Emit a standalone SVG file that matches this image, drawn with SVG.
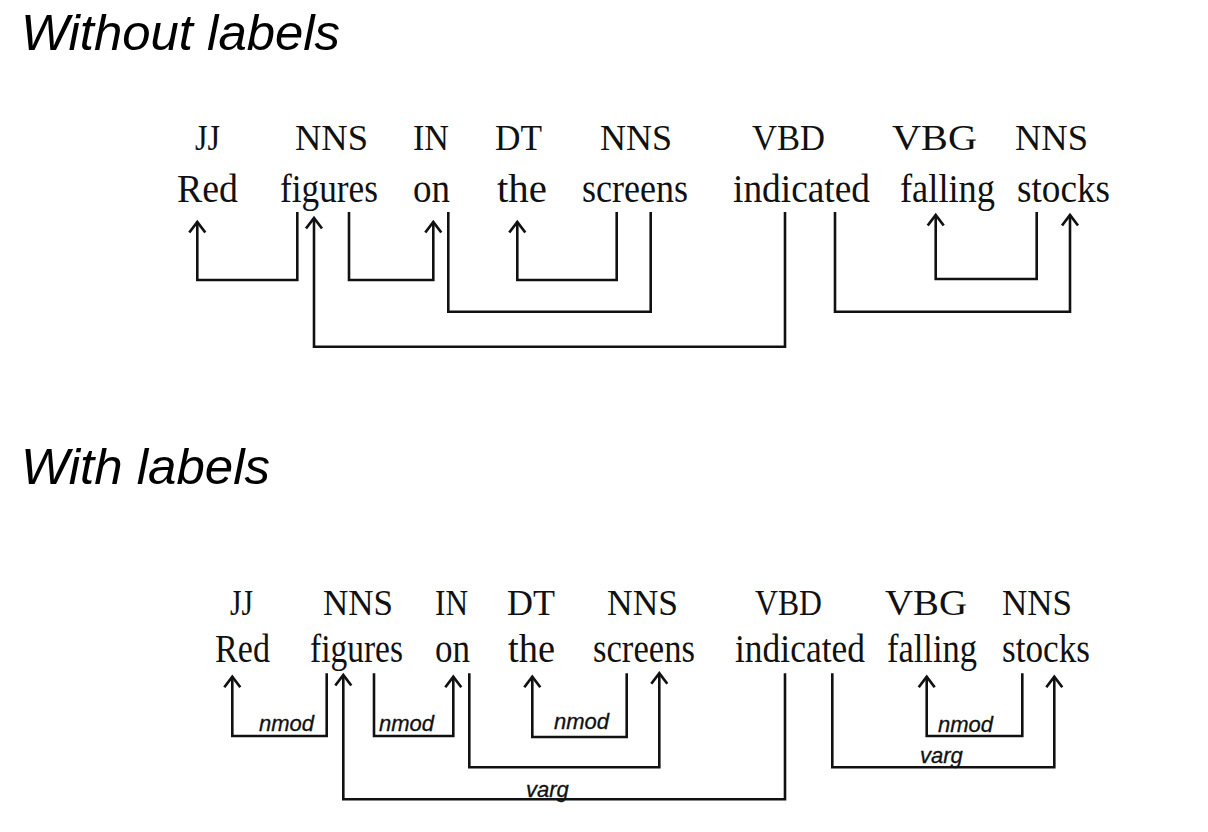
<svg xmlns="http://www.w3.org/2000/svg" width="1208" height="832" viewBox="0 0 1208 832">
<style>
.title{font-family:"Liberation Sans",Arial,sans-serif;font-style:italic;font-size:50px;fill:#000}
.tag{font-family:"Liberation Serif","Times New Roman",serif;font-size:36px;fill:#111}
.tag2{font-family:"Liberation Serif","Times New Roman",serif;font-size:35px;fill:#111}
.word{font-family:"Liberation Serif","Times New Roman",serif;font-size:40px;fill:#111}
.word2{font-family:"Liberation Serif","Times New Roman",serif;font-size:39px;fill:#111}
.lab{font-family:"Liberation Sans",Arial,sans-serif;font-style:italic;font-size:22px;fill:#111;stroke:#111;stroke-width:0.3}
.ln{fill:none;stroke:#111;stroke-width:2.6}
.ar{fill:none;stroke:#111;stroke-width:2.6;marker-end:url(#arr)}
</style>
<defs>
<marker id="arr" markerUnits="userSpaceOnUse" viewBox="-12 -10 14 20" markerWidth="14" markerHeight="20" refX="0" refY="0" orient="auto" overflow="visible">
<path d="M-10.5,-8 L0,0 L-10.5,8" fill="none" stroke="#111" stroke-width="2.7"/>
</marker>
</defs>
<rect width="1208" height="832" fill="#fff"/>
<text class="title" x="21" y="50" textLength="319" lengthAdjust="spacingAndGlyphs">Without labels</text>
<text class="title" x="21" y="484" textLength="249" lengthAdjust="spacingAndGlyphs">With labels</text>

<g id="top-nodes">
<g id="t-red"><text class="tag" x="195" y="150" textLength="25" lengthAdjust="spacingAndGlyphs">JJ</text><text class="word" x="177" y="202" textLength="61" lengthAdjust="spacingAndGlyphs">Red</text></g>
<g id="t-figures"><text class="tag" x="295" y="150" textLength="73" lengthAdjust="spacingAndGlyphs">NNS</text><text class="word" x="280" y="202" textLength="98" lengthAdjust="spacingAndGlyphs">figures</text></g>
<g id="t-on"><text class="tag" x="413" y="150" textLength="36" lengthAdjust="spacingAndGlyphs">IN</text><text class="word" x="413" y="202" textLength="37" lengthAdjust="spacingAndGlyphs">on</text></g>
<g id="t-the"><text class="tag" x="495" y="150" textLength="47" lengthAdjust="spacingAndGlyphs">DT</text><text class="word" x="497" y="202" textLength="50" lengthAdjust="spacingAndGlyphs">the</text></g>
<g id="t-screens"><text class="tag" x="600" y="150" textLength="72" lengthAdjust="spacingAndGlyphs">NNS</text><text class="word" x="582" y="202" textLength="106" lengthAdjust="spacingAndGlyphs">screens</text></g>
<g id="t-indicated"><text class="tag" x="752" y="150" textLength="73" lengthAdjust="spacingAndGlyphs">VBD</text><text class="word" x="733" y="202" textLength="137" lengthAdjust="spacingAndGlyphs">indicated</text></g>
<g id="t-falling"><text class="tag" x="892" y="150" textLength="85" lengthAdjust="spacingAndGlyphs">VBG</text><text class="word" x="900" y="202" textLength="95" lengthAdjust="spacingAndGlyphs">falling</text></g>
<g id="t-stocks"><text class="tag" x="1015" y="150" textLength="73" lengthAdjust="spacingAndGlyphs">NNS</text><text class="word" x="1017" y="202" textLength="93" lengthAdjust="spacingAndGlyphs">stocks</text></g>
</g>

<g id="top-connectors">
<path class="ar" d="M297.3,212 V280 H197.3 V222"/>
<path class="ar" d="M349,212 V280 H433.3 V222"/>
<path class="ln" d="M448.3,212 V311.7 H650.7 V212"/>
<path class="ar" d="M616.7,212 V280 H517.3 V222"/>
<path class="ar" d="M785,212 V346.7 H314 V218"/>
<path class="ar" d="M835,212 V311.7 H1070 V215"/>
<path class="ar" d="M1036.7,212 V279 H935.7 V215"/>
</g>

<g id="bottom-nodes">
<g id="b-red"><text class="tag2" x="230" y="615" textLength="23" lengthAdjust="spacingAndGlyphs">JJ</text><text class="word2" x="215" y="662" textLength="55" lengthAdjust="spacingAndGlyphs">Red</text></g>
<g id="b-figures"><text class="tag2" x="323" y="615" textLength="70" lengthAdjust="spacingAndGlyphs">NNS</text><text class="word2" x="310" y="662" textLength="93" lengthAdjust="spacingAndGlyphs">figures</text></g>
<g id="b-on"><text class="tag2" x="435" y="615" textLength="33" lengthAdjust="spacingAndGlyphs">IN</text><text class="word2" x="435" y="662" textLength="35" lengthAdjust="spacingAndGlyphs">on</text></g>
<g id="b-the"><text class="tag2" x="507" y="615" textLength="48" lengthAdjust="spacingAndGlyphs">DT</text><text class="word2" x="508" y="662" textLength="47" lengthAdjust="spacingAndGlyphs">the</text></g>
<g id="b-screens"><text class="tag2" x="607" y="615" textLength="71" lengthAdjust="spacingAndGlyphs">NNS</text><text class="word2" x="593" y="662" textLength="102" lengthAdjust="spacingAndGlyphs">screens</text></g>
<g id="b-indicated"><text class="tag2" x="755" y="615" textLength="67" lengthAdjust="spacingAndGlyphs">VBD</text><text class="word2" x="735" y="662" textLength="130" lengthAdjust="spacingAndGlyphs">indicated</text></g>
<g id="b-falling"><text class="tag2" x="885" y="615" textLength="82" lengthAdjust="spacingAndGlyphs">VBG</text><text class="word2" x="887" y="662" textLength="90" lengthAdjust="spacingAndGlyphs">falling</text></g>
<g id="b-stocks"><text class="tag2" x="1002" y="615" textLength="70" lengthAdjust="spacingAndGlyphs">NNS</text><text class="word2" x="1002" y="662" textLength="88" lengthAdjust="spacingAndGlyphs">stocks</text></g>
</g>

<g id="bottom-connectors">
<path class="ar" d="M326.7,673.3 V736 H232.3 V676.7"/>
<path class="ar" d="M374,673.3 V736 H453.3 V676.7"/>
<path class="ar" d="M469.3,673.3 V767.3 H659.3 V673.3"/>
<path class="ar" d="M626.7,673.3 V737 H532.3 V676.7"/>
<path class="ar" d="M785,673.3 V799.3 H343.3 V675"/>
<path class="ar" d="M832.3,673.3 V767.3 H1054.3 V676.7"/>
<path class="ar" d="M1022.3,673.3 V736 H926.7 V676.7"/>
<text class="lab" x="259" y="731">nmod</text>
<text class="lab" x="379" y="731">nmod</text>
<text class="lab" x="554" y="729">nmod</text>
<text class="lab" x="938" y="731.5">nmod</text>
<text class="lab" x="526" y="797">varg</text>
<text class="lab" x="920" y="763">varg</text>
</g>
</svg>
